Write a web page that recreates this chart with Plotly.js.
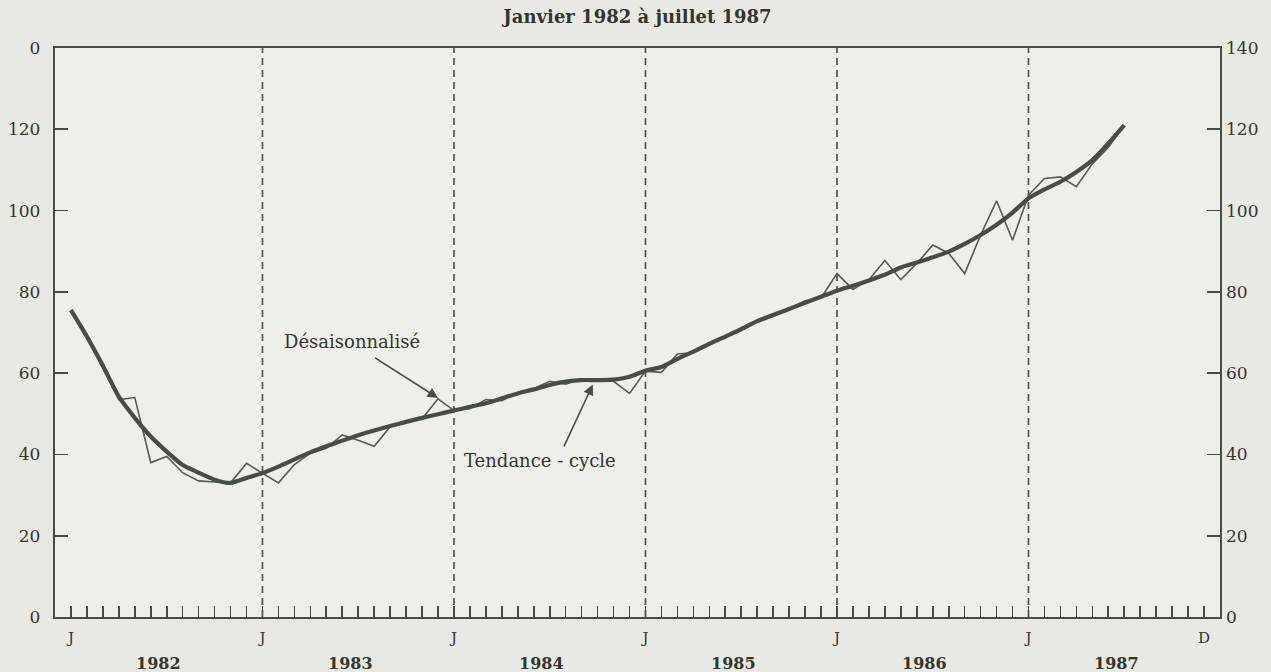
<!DOCTYPE html>
<html>
<head>
<meta charset="utf-8">
<script src="https://cdn.plot.ly/plotly-3.0.1.min.js"></script>
<style>html,body{margin:0;padding:0;background:#e9e9e3;}#chart{width:1271px;height:672px;}</style>
</head>
<body>
<div id="chart"></div>
<script>
// Month index 0 = janvier 1982 ... 66 = juillet 1987
const months = Array.from({length: 67}, (_, i) => i);

const tendanceCycle = [75.5, 69, 61.8, 54.2, 49, 44.4, 40.7, 37.4, 35.5, 33.8, 33, 34.2,
  35.4, 37, 38.8, 40.5, 42, 43.4, 44.7, 45.9, 47, 48, 49, 49.9,
  50.8, 51.7, 52.6, 53.8, 55, 56, 57.1, 57.9, 58.3, 58.3, 58.4, 59.1,
  60.6, 61.5, 63.5, 65.3, 67.2, 69, 70.8, 72.8, 74.3, 75.8, 77.3, 78.8,
  80.3, 81.5, 82.8, 84.2, 86, 87.2, 88.5, 89.9, 91.8, 94, 96.5, 99.5,
  103, 105.2, 107.1, 109.5, 112.4, 116.5, 121];

const desaisonnalise = [75.5, 68.5, 61.5, 53.5, 54, 38, 39.5, 35.5, 33.5, 33.2, 33, 37.8,
  35.4, 33, 37.5, 40.3, 41.5, 44.8, 43.5, 42, 46.8, 48.2, 48.8, 53.7,
  50.8, 51.3, 53.5, 53.2, 55.3, 56.2, 58, 57.3, 58.6, 58.5, 58, 55,
  60.5, 60.2, 64.7, 65, 67.5, 68.6, 71.2, 72.5, 74, 76, 77.8, 78.5,
  84.5, 80.6, 83, 87.7, 83, 87, 91.5, 89.5, 84.5, 94, 102.4, 92.7,
  103.8, 107.9, 108.3, 105.9, 111.5, 115.5, 121];

// x-axis: one tick per month, Jan 1982 .. Dec 1987
const tickMonths = Array.from({length: 72}, (_, i) => i);
const monthLetters = tickMonths.map(i => (i % 12 === 0 ? 'J' : (i === 71 ? 'D' : '')));
const years = ['1982', '1983', '1984', '1985', '1986', '1987'];
const yearCenters = years.map((_, k) => k * 12 + 5.5);
const yearStarts = [12, 24, 36, 48, 60];

const yTicks = [0, 20, 40, 60, 80, 100, 120, 140];
const yTickLeft = ['0', '20', '40', '60', '80', '100', '120', '0'];
const yTickRight = ['0', '20', '40', '60', '80', '100', '120', '140'];

const ink = '#474c44';
const txt = '#33352f';
const serif = '"DejaVu Serif", "Liberation Serif", serif';

const traces = [
  {x: months, y: desaisonnalise, type: 'scatter', mode: 'lines', name: 'Désaisonnalisé',
   line: {color: '#555b51', width: 1.6}, xaxis: 'x', yaxis: 'y', hoverinfo: 'skip'},
  {x: months, y: tendanceCycle, type: 'scatter', mode: 'lines', name: 'Tendance - cycle',
   line: {color: ink, width: 4.2, shape: 'spline', smoothing: 0.6}, xaxis: 'x', yaxis: 'y2', hoverinfo: 'skip'}
];

const shapes = yearStarts.map(m => ({
  type: 'line', xref: 'x', yref: 'paper', x0: m, x1: m, y0: 0, y1: 1,
  line: {color: '#4d524a', width: 1.7, dash: '7px,5px'}, layer: 'below'
}));

const annotations = years.map((yr, k) => ({
  text: '<b>' + yr + '</b>', x: yearCenters[k], xref: 'x', y: -0.082, yref: 'paper',
  yanchor: 'middle', xanchor: 'center', showarrow: false,
  font: {family: serif, size: 16, color: txt}
}));

annotations.push(
  {text: 'Désaisonnalisé', x: 17.6, y: 67.9, xref: 'x', yref: 'y', showarrow: false,
   font: {family: serif, size: 18, color: txt}, xanchor: 'center', yanchor: 'middle'},
  {text: '', x: 23, y: 53.9, xref: 'x', yref: 'y', ax: 18.96, ay: 64, axref: 'x', ayref: 'y',
   showarrow: true, arrowhead: 2, arrowsize: 1.3, arrowwidth: 1.6, arrowcolor: ink},
  {text: 'Tendance - cycle', x: 29.4, y: 38.4, xref: 'x', yref: 'y', showarrow: false,
   font: {family: serif, size: 18, color: txt}, xanchor: 'center', yanchor: 'middle'},
  {text: '', x: 32.7, y: 57.2, xref: 'x', yref: 'y', ax: 30.85, ay: 41.6, axref: 'x', ayref: 'y',
   showarrow: true, arrowhead: 2, arrowsize: 1.3, arrowwidth: 1.6, arrowcolor: ink}
);

const layout = {
  width: 1271, height: 672,
  margin: {l: 55, r: 51, t: 48, b: 55},
  paper_bgcolor: '#e9e9e3', plot_bgcolor: '#efefea',
  showlegend: false,
  title: {text: '<b>Janvier 1982 à juillet 1987</b>', x: 0.5, xref: 'paper', y: 0.975, yref: 'container',
          yanchor: 'middle', font: {family: serif, size: 18, color: txt}},
  font: {family: serif, color: txt},
  xaxis: {range: [-1, 72], tickvals: tickMonths, ticktext: monthLetters, ticks: 'inside', ticklen: 11,
          tickwidth: 1.6, tickcolor: ink, showline: true, linecolor: ink, linewidth: 2.2, mirror: true,
          showgrid: false, zeroline: false, ticklabelstandoff: 6,
          tickfont: {family: serif, size: 15, color: txt}},
  yaxis: {range: [0, 140], tickvals: yTicks, ticktext: yTickLeft, ticks: 'inside', ticklen: 13,
          tickwidth: 1.6, tickcolor: ink, showline: true, linecolor: ink, linewidth: 2.2, mirror: true,
          showgrid: false, zeroline: false, ticklabelstandoff: 9,
          tickfont: {family: serif, size: 17, color: txt}},
  yaxis2: {range: [0, 140], overlaying: 'y', side: 'right', tickvals: yTicks, ticktext: yTickRight,
           ticks: 'inside', ticklen: 13, tickwidth: 1.6, tickcolor: ink, showline: false,
           showgrid: false, zeroline: false, ticklabelstandoff: 5,
           tickfont: {family: serif, size: 17, color: txt}},
  shapes: shapes,
  annotations: annotations
};

Plotly.newPlot('chart', traces, layout, {displayModeBar: false, staticPlot: true});
</script>
</body>
</html>
